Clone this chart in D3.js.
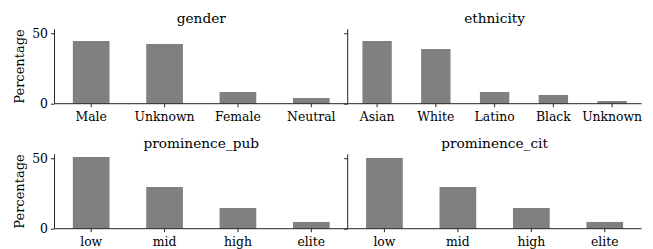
<!DOCTYPE html>
<html><head><meta charset="utf-8">
<script src="https://cdn.jsdelivr.net/npm/d3@7"></script>
<style>body{margin:0;background:#fff}svg{display:block}</style>
</head><body><svg id="c" width="653" height="249"></svg>
<script>
const genderCats = ["Male","Unknown","Female","Neutral"];
const genderVals = [44.5, 42.4, 8.3, 4.0];
const ethnicityCats = ["Asian","White","Latino","Black","Unknown"];
const ethnicityVals = [44.5, 38.8, 8.3, 6.2, 1.9];
const pubCats = ["low","mid","high","elite"];
const pubVals = [50.9, 29.6, 14.7, 4.8];
const citCats = ["low","mid","high","elite"];
const citVals = [50.2, 29.6, 14.7, 4.8];
const yTicks = [0, 50];
const titles = ["gender","ethnicity","prominence_pub","prominence_cit"];

const panels = [
  {title:titles[0], cats:genderCats, vals:genderVals, x0:54.5, x1:348, y0:29.3, y1:103.7, left:true},
  {title:titles[1], cats:ethnicityCats, vals:ethnicityVals, x0:347.7, x1:641.5, y0:29.3, y1:103.7, left:false},
  {title:titles[2], cats:pubCats, vals:pubVals, x0:54.5, x1:348, y0:154.3, y1:228.7, left:true},
  {title:titles[3], cats:citCats, vals:citVals, x0:347.7, x1:641.5, y0:154.3, y1:228.7, left:false}
];
const svg = d3.select("#c");
const FONT = '"DejaVu Serif", serif';
const tickFs = 12.4, titleFs = 13.7, labelFs = 13;
panels.forEach(p => {
  const x = d3.scaleBand().domain(p.cats).range([p.x0, p.x1]).paddingInner(0.5).paddingOuter(0.25);
  const y = d3.scaleLinear().domain([0, 52.8]).range([p.y1, p.y0]);
  const g = svg.append("g");
  g.selectAll("rect").data(p.vals).enter().append("rect")
    .attr("x", (d,i) => x(p.cats[i])).attr("width", x.bandwidth())
    .attr("y", d => y(d)).attr("height", d => y(0) - y(d))
    .attr("fill", "#808080");
  const ya = d3.axisLeft(y).tickValues(yTicks).tickSize(3.5).tickPadding(3).tickFormat(p.left ? d3.format("d") : () => "");
  const yg = g.append("g").attr("transform", `translate(${p.x0},0)`).call(ya);
  const xa = d3.axisBottom(x).tickSize(3.5).tickPadding(5.5);
  const xg = g.append("g").attr("transform", `translate(0,${p.y1})`).call(xa);
  [yg, xg].forEach(a => {
    a.attr("font-family", null).attr("font-size", null);
    a.select(".domain").attr("stroke", "#262626").attr("stroke-width", 1);
    a.selectAll(".tick line").attr("stroke", "#262626").attr("stroke-width", 1);
    a.selectAll("text").style("font-family", FONT).style("font-size", tickFs + "px").attr("fill", "#000");
  });
  yg.select(".domain").attr("d", `M-0,${p.y1}V${p.y0}`);
  xg.select(".domain").attr("d", `M${p.x0},0H${p.x1}`);
  g.append("text").attr("x", (p.x0 + p.x1)/2).attr("y", p.y0 - 6)
    .attr("text-anchor", "middle").attr("fill", "#000").style("font-family", FONT).style("font-size", titleFs + "px").text(p.title);
  if (p.left) {
    g.append("text").attr("transform", `translate(23.5,${(p.y0+p.y1)/2}) rotate(-90)`)
      .attr("text-anchor", "middle").attr("fill", "#000").style("font-family", FONT).style("font-size", labelFs + "px").text("Percentage");
  }
});
</script></body></html>
